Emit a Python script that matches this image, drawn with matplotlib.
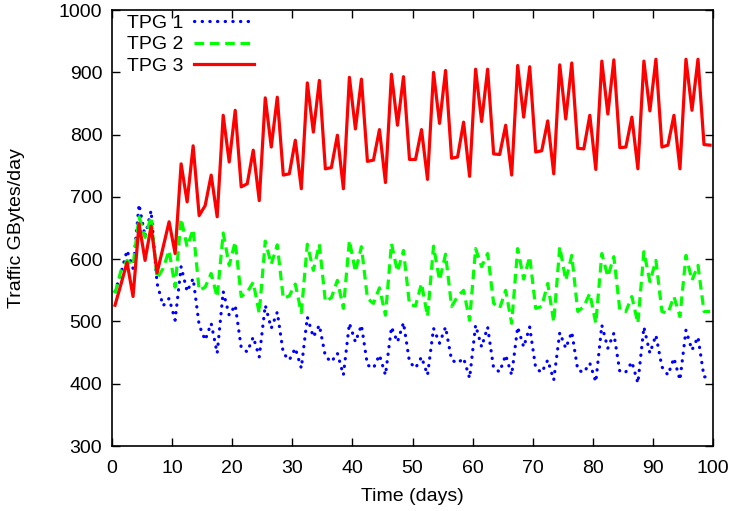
import numpy as np
import matplotlib
matplotlib.use("Agg")
import matplotlib.pyplot as plt

plt.rcParams['font.family'] = ['Liberation Sans', 'DejaVu Sans']

# one value per day, sampled at mid-day
days = np.arange(100) + 0.5

tpg1 = [548, 578, 614, 585, 688, 636, 678, 561, 525, 537,
        502, 588, 548, 569, 494, 470, 497, 449, 548, 510,
        526, 458, 451, 475, 443, 526, 489, 515, 449, 438,
        457, 425, 507, 475, 494, 444, 435, 449, 414, 497,
        467, 494, 430, 425, 446, 414, 491, 467, 498, 435,
        425, 443, 414, 489, 465, 491, 438, 433, 441, 409,
        494, 459, 491, 425, 419, 446, 414, 491, 459, 491,
        425, 418, 438, 406, 482, 457, 483, 422, 418, 433,
        403, 494, 457, 481, 419, 419, 435, 401, 491, 449,
        478, 427, 414, 441, 406, 486, 454, 475, 411, 411]

tpg2 = [545, 582, 598, 590, 668, 635, 668, 569, 585, 614,
        555, 665, 620, 648, 550, 555, 577, 539, 642, 590,
        628, 540, 547, 563, 513, 629, 592, 623, 537, 541,
        560, 514, 624, 582, 624, 532, 538, 566, 521, 630,
        580, 620, 537, 529, 554, 510, 625, 580, 614, 527,
        525, 561, 508, 621, 566, 608, 524, 540, 550, 502,
        617, 588, 609, 529, 521, 550, 497, 617, 568, 604,
        521, 524, 561, 499, 620, 566, 606, 516, 524, 545,
        497, 609, 572, 604, 518, 516, 540, 497, 612, 564,
        598, 516, 513, 540, 508, 606, 566, 590, 516, 516]

tpg3 = [526, 560, 595, 540, 657, 598, 653, 578, 619, 660,
        609, 753, 692, 782, 670, 686, 735, 668, 831, 756,
        839, 716, 721, 775, 694, 859, 780, 860, 735, 737,
        791, 713, 883, 804, 887, 745, 747, 799, 713, 892,
        809, 889, 757, 759, 808, 723, 897, 815, 893, 760,
        760, 808, 728, 900, 818, 903, 762, 764, 820, 733,
        905, 821, 905, 769, 768, 815, 735, 911, 828, 909,
        772, 774, 822, 737, 912, 825, 915, 778, 777, 831,
        744, 918, 833, 920, 779, 780, 828, 745, 918, 838,
        921, 780, 783, 831, 745, 921, 839, 921, 784, 783]

fig = plt.figure(figsize=(7.34, 5.11), dpi=100)
ax = fig.add_axes([0.1526, 0.1272, 0.8188, 0.8532])

ax.plot(days, tpg1, color='#0000ff', lw=2.3, linestyle=(0, (0.1, 2.3)),
        dash_capstyle='round', solid_capstyle='round', label='TPG 1')
ax.plot(days, tpg2, color='#00ff00', lw=2.3, linestyle=(0, (3.0, 1.8)),
        dash_capstyle='butt', label='TPG 2')
ax.plot(days, tpg3, color='#ff0000', lw=2.3, label='TPG 3')

ax.set_xlim(0, 100)
ax.set_ylim(300, 1000)
ax.set_xticks(np.arange(0, 101, 10))
ax.set_yticks(np.arange(300, 1001, 100))
ax.tick_params(direction='in', top=True, right=True, length=6, width=1,
               labelsize=14, pad=7)
ax.tick_params(axis='x', pad=10)
for s in ax.spines.values():
    s.set_linewidth(1.2)

ax.set_xlabel('Time (days)', fontsize=14, labelpad=8)
ax.set_ylabel('Traffic GBytes/day', fontsize=14, labelpad=24)

ax.legend(loc='upper left', frameon=False, markerfirst=False, fontsize=14,
          handlelength=3.1, handletextpad=0.55, labelspacing=0.2,
          borderaxespad=0.0, bbox_to_anchor=(0.012, 1.008))

fig.savefig('out.png', dpi=100)
